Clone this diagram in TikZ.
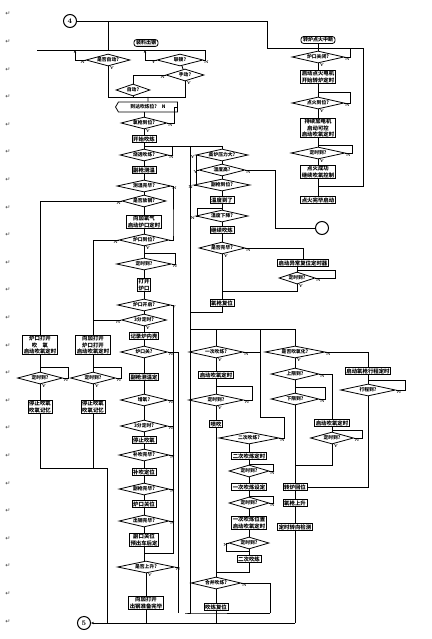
\documentclass[tikz,border=0pt]{standalone}
\usepackage{fontspec}
\newfontfamily\cjk{Noto Sans CJK SC}
\newfontfamily\symf{DejaVu Sans}
\usetikzlibrary{positioning, calc, shapes.geometric, shapes.symbols, arrows.meta}

\begin{document}
\begin{tikzpicture}[
    x=1pt, y=-1pt,
    line width=0.8pt,
    >={Stealth[length=3pt, width=2.4pt]},
    box/.style={draw, inner xsep=1.2pt, inner ysep=0.8pt, align=center, font=\cjk\bfseries\fontsize{5.4}{6.4}\selectfont},
    dec/.style={draw, diamond, aspect=4, inner sep=0pt, minimum width=46pt, minimum height=12pt, font=\cjk\bfseries\fontsize{4.8}{5}\selectfont},
    ttl/.style={draw, rounded corners=2.5pt, inner xsep=2pt, inner ysep=1pt, font=\cjk\bfseries\fontsize{5}{5}\selectfont},
    con/.style={draw, circle, minimum size=13pt, inner sep=0pt, line width=1pt, font=\fontsize{7}{7}\selectfont\bfseries},
    yn/.style={inner sep=0.3pt, font=\fontsize{4}{4}\selectfont\bfseries},
    ret/.style={inner sep=0pt, text=black!75, font=\symf\fontsize{6}{6}\selectfont},
]
\fill[white] (0,0) rectangle (431,639);
\useasboundingbox (0,0) rectangle (431,639);

% return marks down the left margin
\foreach \i in {0,...,22}
    \node[ret] (ret\i) at (8,{14+27.6*\i}) {↵};

% connectors
\node[con] (c4) at (70,21) {4};
\node[con] (c5) at (84,623) {5};
\node[con] (c6) at (322,228) {};

% ---- ignition branch (right top)
\node[ttl] (t2) at (318,40) {转炉点火中断};
\node[dec, minimum width=52pt] (r1) at (318,57) {炉口关闭?};
\node[box] (r2) at (318,77) {启动点火电机\\开始转炉定时};
\node[dec, minimum width=52pt] (r3) at (318,103) {点火到位?};
\node[box] (r4) at (318,128) {持续加电机\\启动可控\\启动吹氧定时};
\node[dec, minimum width=54pt] (r5) at (318,153) {定时到?};
\node[box] (r6) at (318,172) {点火成功\\继续吹氧控制};
\node[box] (r7) at (318,200) {点火完毕启动};

\coordinate (k1) at (267,21);
\coordinate (k2) at (267,48);
\coordinate (k3) at (363,48);
\coordinate (k4) at (363,186);
\coordinate (k5) at (350,48);
\coordinate (k6) at (350,92);
\coordinate (k7) at (352,145);
\draw (c4) -- (k1) -- (k2) -- (k3) -- (k4) -- (k4 -| r6);
\draw (t2) -- (r1) -- (r2) -- (r3) -- (r4) -- (r5) -- (r6) -- (r7);
\draw (r1.east) -| (k5);
\draw (r3.east) -| (k6) -- (k6 -| r3);
\draw (r5.east) -| (k7) -- (k7 -| r5);
\node[yn, below right=0pt and 0pt of r1.east] (r1n) {N};
\node[yn, below right=0pt and 1pt of r1.south] (r1y) {Y};
\node[yn, below right=0pt and 0pt of r3.east] (r3n) {N};
\node[yn, below right=0pt and 1pt of r3.south] (r3y) {Y};
\node[yn, below right=0pt and 0pt of r5.east] (r5n) {N};
\node[yn, below right=0pt and 1pt of r5.south] (r5y) {Y};

% ---- charging branch (left top)
\node[ttl] (t1) at (146,43) {装料出钢};
\coordinate (a0) at (37,50);
\coordinate (a1) at (205,50);
\coordinate (a2) at (108,21);
\coordinate (a3) at (75,50);
\coordinate (a4) at (145,50);
\coordinate (a5) at (108,97);
\coordinate (a6) at (185,97);
\draw (a0) -- (a1);
\draw (a2) -- (a2 |- a0);
\node[dec, minimum width=44pt] (d1) at (108,60) {是否自动?};
\node[dec] (d2) at (180,60) {联锁?};
\node[dec, minimum width=38pt] (d3) at (185,75) {手动?};
\node[dec, minimum width=34pt] (d4) at (133,90) {自动?};
\node[draw, signal, signal to=west, signal pointer angle=120, inner sep=1pt, minimum width=62pt, minimum height=10pt, font=\cjk\bfseries\fontsize{4.8}{5}\selectfont] (h1) at (148,107) {到达吹炼位?\quad N};
\draw[->] (d1.west) -| (a3);
\draw[->] (d2.west) -| (a4);
\draw (d2.east) -| (a1);
\draw (d2) -- (d3);
\draw (d3.west) -| (d4.north);
\draw (d1) -- (a5) -- (a6) -- (d3);
\draw (d4) -- (d4 |- a5);
\draw (h1 |- a5) -- (h1);
\node[yn, below left=0pt of d1.west] (d1n) {N};
\node[yn, below right=0pt and 1pt of d1.south] (d1y) {Y};
\node[yn, below left=0pt of d2.west] (d2y) {Y};
\node[yn, below right=0pt and 0pt of d2.east] (d2n) {N};
\node[yn, below left=0pt of d3.west] (d3n) {N};
\node[yn, below right=0pt and 1pt of d3.south] (d3y) {Y};

% ---- blowing column
\node[dec] (m1) at (144,123) {氧枪到位?};
\node[box] (m2) at (144,139) {开始吹炼};
\node[dec, minimum width=48pt] (m3) at (144,155) {烧透吹炼?};
\node[box] (m4) at (144,170) {副枪测温};
\node[dec, minimum width=54pt] (m5) at (144,186) {测温完毕?};
\node[dec, minimum width=44pt] (m6) at (144,201) {是否放钢?};
\node[box] (m7) at (144,222) {向加氧气\\启动炉口定时};
\coordinate (b0) at (174,107);
\coordinate (b1) at (144,146);
\coordinate (b2) at (222,146);
\coordinate (b3) at (172,146);
\draw (h1.south -| m1) -- (m1);
\draw (m1.east) -| (b0) -- (h1.east);
\draw (m1) -- (m2) -- (b1) -- (b2);
\draw (b1) -- (m3);
\draw (m3.east) -| (b3);
\draw (m3) -- (m4) -- (m5) -- (m6) -- (m7);
\node[yn, below right=0pt and 0pt of m1.east] (m1n) {N};
\node[yn, below right=0pt and 1pt of m1.south] (m1y) {Y};
\node[yn, below right=0pt and 0pt of m3.east] (m3n) {N};
\node[yn, below right=0pt and 0pt of m5.east] (m5n) {N};
\node[yn, below left=0pt of m6.west] (m6n) {N};

% ---- converter column
\node[dec, minimum width=52pt] (n1) at (222,155) {高炉压力大?};
\node[dec] (n2) at (222,170) {温度高?};
\node[dec, minimum width=56pt] (n3) at (222,185) {副枪到位?};
\node[box] (n4) at (222,200) {温度到了};
\node[dec, minimum width=52pt] (n5) at (222,216) {温度下降?};
\node[box] (n6) at (222,230) {继续吹炼};
\coordinate (e3) at (190,312);
\coordinate (e4) at (196,185);
\coordinate (e5) at (275,177);
\coordinate (e6) at (197,208);
\draw (b2) -- (n1) -- (n2) -- (n3) -- (n4) -- (n5) -- (n6);
\draw (n1.west) -| (e4) -- (n3.west);
\draw (n2.west) -- (n2.west -| e4);
\draw (n2.east) -| (e5 |- c6) -- (c6);
\draw (n5.west) -| (e6) -- (e6 -| n4);
\node[yn, below left=0pt of n1.west] (n1y) {Y};
\node[yn, below left=0pt of n2.west] (n2y) {Y};
\node[yn, below right=0pt and 0pt of n2.east] (n2n) {N};
\node[yn, below left=0pt of n3.west] (n3n) {N};
\node[yn, below left=0pt of n5.west] (n5n) {N};

% ---- reset branch
\node[dec] (u1) at (222,248) {是否完毕?};
\node[box] (u2) at (303,263) {启动异常复位定时器};
\node[dec, minimum width=36pt] (u4) at (297,278) {定时到?};
\node[box] (u3) at (222,303) {氧枪复位};
\coordinate (f1) at (335,270);
\coordinate (f2) at (222,291);
\draw (n6) -- (u1) -- (u3);
\draw (u1.east) -| (u2);
\draw (u2.south -| u4) -- (u4);
\draw (u4.east) -| (f1) -- (f1 -| u4);
\draw (u4) |- (f2);
\draw (u3) -- (u3 |- e3) -- (e3);
\draw (b2 -| e3) -- (e3);
\node[yn, below right=0pt and 0pt of u1.east] (u1n) {N};
\node[yn, below right=0pt and 1pt of u1.south] (u1y) {Y};
\node[yn, below right=0pt and 0pt of u4.east] (u4n) {N};
\node[yn, below right=0pt and 1pt of u4.south] (u4y) {Y};

% ---- tapping column
\node[dec, minimum width=50pt] (p1) at (144,240) {炉口到位?};
\node[dec, minimum width=55pt] (p2) at (144,264) {定时到?};
\node[box] (p3) at (144,285) {打开\\炉口};
\node[dec, minimum width=53pt] (p4) at (144,305) {炉口开启?};
\node[dec, minimum width=45pt] (p5) at (144,320) {3分定时?};
\node[box] (p6) at (144,336) {记录炉内壳};
\node[dec, minimum width=47pt] (p7) at (144,352) {炉口关?};
\node[box] (p8) at (144,377) {副枪测温定};
\node[dec, minimum width=47pt] (p9) at (144,400) {增氧?};
\node[dec, minimum width=47pt] (p10) at (144,426) {3分定时?};
\node[box] (p11) at (144,440) {停止吹氧};
\node[dec, minimum width=50pt] (p12) at (144,455) {补吹完毕?};
\node[box] (p13) at (144,472) {补吹定位};
\node[dec, minimum width=50pt] (p14) at (144,489) {副枪完毕?};
\node[box] (p15) at (144,504) {炉口关位};
\node[dec, minimum width=50pt] (p16) at (144,521) {出钢完毕?};
\node[box] (p17) at (144,540) {副口关位\\预出车后定};
\node[dec, minimum width=57pt] (p18) at (146,567) {是否上升?};
\node[box] (p19) at (146,603) {向加打开\\出钢准备完毕};
\coordinate (g1) at (175,253);
\coordinate (g2) at (173,553);
\coordinate (g3) at (178,613);
\coordinate (g4) at (173,232);
\draw (m7) -- (p1) -- (p2) -- (p3) -- (p4) -- (p5) -- (p6) -- (p7) -- (p8) -- (p9) -- (p10) -- (p11) -- (p12) -- (p13) -- (p14) -- (p15) -- (p16) -- (p17);
\draw (p17.south) -- (p17.south |- p18.north);
\draw (p18) -- (p19);
\draw (m5.east) -| (g4) |- (p1.east);
\draw (p2.east) -| (g1) -- (g1 -| p2);
\draw (p4.east) -| (g2) -- (g2 -| p17);
\foreach \n in {p9,p10,p12,p14,p16}
    \draw (\n.east) -- (\n.east -| g2);
\draw (p7.east) -| (g3);
\draw (p18.east) -- (p18.east -| g3);
\node[yn, below left=0pt of p1.west] (p1n) {N};
\node[yn, below right=0pt and 1pt of p1.south] (p1y) {Y};
\node[yn, below right=0pt and 0pt of p2.east] (p2n) {N};
\node[yn, below right=0pt and 0pt of p4.east] (p4y) {Y};
\node[yn, below left=0pt of p5.west] (p5n) {N};
\node[yn, below right=0pt and 1pt of p5.south] (p5y) {Y};
\node[yn, below right=0pt and 0pt of p7.east] (p7n) {N};
\node[yn, below right=0pt and 0pt of p9.east] (p9n) {N};
\node[yn, below right=0pt and 0pt of p10.east] (p10n) {N};
\node[yn, below right=0pt and 0pt of p12.east] (p12n) {N};
\node[yn, below right=0pt and 0pt of p14.east] (p14n) {N};
\node[yn, below right=0pt and 0pt of p16.east] (p16n) {N};
\node[yn, below right=0pt and 0pt of p18.east] (p18n) {N};
\node[yn, below right=0pt and 1pt of p18.south] (p18y) {Y};

% ---- oxygen lances (left)
\node[box] (L1) at (40,345) {炉口打开\\吹\quad 氧\\启动吹氧定时};
\node[box] (L2) at (93,345) {向加打开\\炉口打开\\启动吹氧定时};
\node[dec, minimum width=45pt] (L3) at (40,378) {定时到?};
\node[dec, minimum width=45pt] (L4) at (93,378) {定时到?};
\node[box] (L5) at (40,407) {停止吹氧\\吹氧记忆};
\node[box] (L6) at (93,407) {停止吹氧\\吹氧记忆};
\coordinate (l1) at (68,367);
\coordinate (l2) at (121,367);
\coordinate (z1) at (295,623);
\coordinate (z2) at (107,468);
\draw (m6.west) -| (L1);
\draw (p1.west) -| (L2);
\draw (p5.west) -- (p5.west -| L2);
\draw (L1) -- (L3) -- (L5);
\draw (L2) -- (L4) -- (L6);
\draw (L3.east) -| (l1) -- (l1 -| L1);
\draw (L4.east) -| (l2) -- (l2 -| L2);
\draw (L5) |- (z2);
\draw (L6) -- (L6 |- z2);
\draw (z2) -- (z2 |- z1);
\draw[->] (z1) -- (c5);
\draw (p19) -- (p19 |- z1);
\node[yn, below right=0pt and 0pt of L3.east] (L3n) {N};
\node[yn, below right=0pt and 1pt of L3.south] (L3y) {Y};
\node[yn, below right=0pt and 0pt of L4.east] (L4n) {N};
\node[yn, below right=0pt and 1pt of L4.south] (L4y) {Y};

% ---- first / second blow
\coordinate (h0) at (190,329);
\coordinate (h1c) at (295,329);
\coordinate (h2) at (185,613);
\coordinate (i2) at (260,329);
\coordinate (i3) at (260,417);
\coordinate (i4) at (284,417);
\coordinate (i6) at (270,613);
\draw (e3) -- (h0) -- (h1c);
\draw (h0) -- (h0 |- h2) -- (h2) -- (i6);
\node[dec, minimum width=54pt] (q1) at (216,352) {一次吹炼?};
\node[box] (q2) at (216,375) {启动吹氧定时};
\node[dec, minimum width=55pt] (q3) at (216,400) {定时到?};
\node[box] (q4) at (216,424) {喷吹};
\node[dec, minimum width=60pt] (q5) at (249,438) {二次吹炼?};
\node[box] (q6) at (249,456) {二次吹炼定时};
\node[dec, minimum width=40pt] (q7) at (249,471) {定时到?};
\node[box] (q8) at (249,487) {一次吹炼设定};
\node[dec, minimum width=40pt] (q9) at (249,503) {定时到?};
\node[box] (q10) at (249,523) {一次吹炼位置\\启动吹氧定时};
\node[dec, minimum width=40pt] (q11) at (249,543) {定时到?};
\node[box] (q12) at (249,559) {二次吹炼};
\node[dec, minimum width=50pt] (q13) at (216,583) {合并吹炼?};
\node[box] (q14) at (216,607) {吹炼复位};
\coordinate (i1) at (252,386);
\coordinate (i5) at (249,572);
\coordinate (i7) at (273,464);
\coordinate (i8) at (273,496);
\coordinate (i9) at (226,551);
\draw (h0 -| q1) -- (q1) -- (q2) -- (q3) -- (q4) -- (q13) -- (q14);
\draw (q3.east) -| (i1) -- (i1 -| q2);
\draw (i2) -- (i3) -- (i4) |- (q5.east);
\draw (q1.east) -- (q1.east -| i2);
\draw (q5) -- (q6) -- (q7) -- (q8) -- (q9) -- (q10) -- (q11) -- (q12) -- (i5) -- (i5 -| q13);
\draw (q7.east) -| (i7) -- (i7 -| q6);
\draw (q9.east) -| (i8) -- (i8 -| q8);
\draw (q11.west) -| (i9 |- q11.west) -- (i9) -- (i9 -| q10);
\draw (q13.east) -| (i6);
\draw (q14) -- (q14 |- z1);
\node[yn, below right=0pt and 0pt of q1.east] (q1n) {N};
\node[yn, below right=0pt and 1pt of q1.south] (q1y) {Y};
\node[yn, below right=0pt and 0pt of q3.east] (q3n) {N};
\node[yn, below right=0pt and 1pt of q3.south] (q3y) {Y};
\node[yn, below right=0pt and 0pt of q5.east] (q5n) {N};
\node[yn, below right=0pt and 0pt of q7.east] (q7n) {N};
\node[yn, below right=0pt and 0pt of q9.east] (q9n) {N};
\node[yn, below left=0pt of q11.west] (q11n) {N};
\node[yn, below right=0pt and 0pt of q13.east] (q13n) {N};

% ---- lance travel
\node[dec, minimum width=60pt] (s1) at (295,352) {是否吹氧化?};
\node[box] (s2) at (368,371) {启动氧枪行程定时};
\node[dec, minimum width=55pt] (s3) at (368,390) {行程到?};
\node[dec, minimum width=48pt] (s4) at (295,374) {上限到?};
\node[dec, minimum width=48pt] (s5) at (295,399) {下限到?};
\node[box] (s6) at (332,423) {启动吹氧定时};
\node[dec, minimum width=43pt] (s7) at (332,438) {定时到?};
\node[box] (s8) at (295,487) {转炉回位};
\node[box] (s9) at (295,503) {氧枪上升};
\node[box] (s10) at (295,527) {定时转向检测};
\coordinate (j1) at (405,380);
\coordinate (j3) at (362,430);
\coordinate (j4) at (332,465);
\coordinate (j5) at (325,387);
\draw (h1c) -- (s1) -- (s4) -- (s5) -- (s8) -- (s9) -- (s10) -- (z1);
\draw (s1.east) -| (s2);
\draw (s2) -- (s3);
\draw (s3.east) -| (j1) -- (j1 -| s2);
\draw (s3) |- (s8);
\draw (s4.east) -| (s6);
\draw (s5.east) -| (j5) -- (j5 -| s4);
\draw (s6) -- (s7);
\draw (s7.east) -| (j3) -- (j3 -| s6);
\draw (s7) -- (j4) -- (j4 -| s5);
\node[yn, below right=0pt and 0pt of s1.east] (s1n) {N};
\node[yn, below right=0pt and 1pt of s1.south] (s1y) {Y};
\node[yn, below right=0pt and 0pt of s3.east] (s3n) {N};
\node[yn, below right=0pt and 0pt of s4.east] (s4n) {N};
\node[yn, below right=0pt and 0pt of s5.east] (s5n) {N};
\node[yn, below right=0pt and 0pt of s7.east] (s7n) {N};
\node[yn, below right=0pt and 1pt of s7.south] (s7y) {Y};
\end{tikzpicture}
\end{document}
